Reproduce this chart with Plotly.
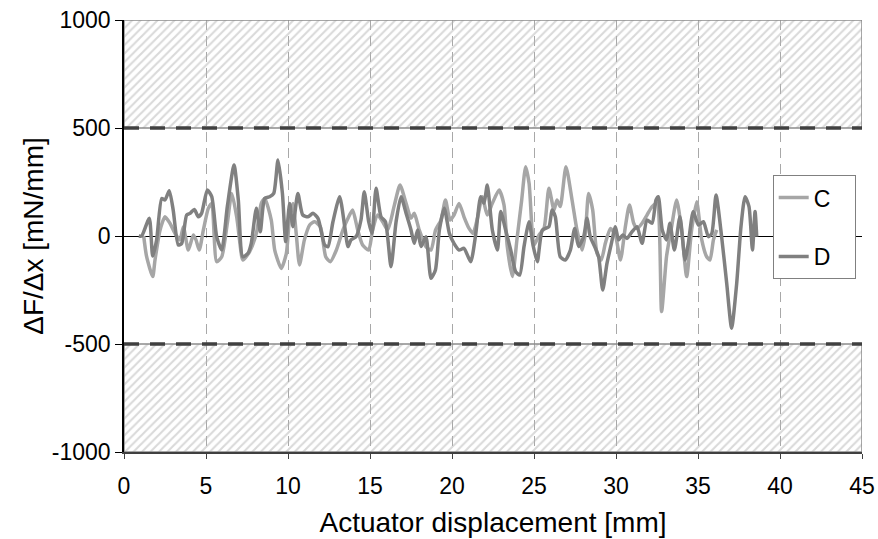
import plotly.graph_objects as go

# series C (light grey) - displacement [mm] / dF/dx [mN/mm]
c_x = [1.2, 1.38, 1.75, 1.89, 2.2, 2.5, 2.8, 3.11, 3.41, 3.62, 3.92, 4.23, 4.39, 4.59, 4.84,
       5.14, 5.35, 5.65, 5.96, 6.3, 6.57, 6.87, 7.18, 7.26, 7.66, 8.07, 8.37, 8.58, 8.98, 9.19,
       9.59, 9.9, 10.1, 10.3, 10.5, 10.7, 11.0, 11.32, 11.62, 11.97, 12.3, 12.58, 12.95, 13.35,
       13.66, 13.94, 14.25, 14.55, 14.92, 15.16, 15.47, 15.77, 16.08, 16.49, 16.83, 17.2, 17.5,
       17.7, 18.0, 18.41, 18.72, 19.0, 19.33, 19.6, 19.88, 20.12, 20.43, 20.73, 21.04, 21.28,
       21.55, 21.85, 22.15, 22.46, 22.87, 23.17, 23.37, 23.68, 23.98, 24.25, 24.49, 24.7, 25.0,
       25.31, 25.61, 25.91, 26.22, 26.4, 26.6, 26.95, 27.32, 27.62, 27.93, 28.13, 28.33, 28.58,
       28.84, 29.1, 29.35, 29.66, 29.96, 30.27, 30.57, 30.82, 31.08, 31.28, 31.59, 31.89, 32.2,
       32.5, 32.78, 33.08, 33.39, 33.7, 34.0, 34.31, 34.61, 34.92, 35.23, 35.53, 35.73, 35.94,
       36.14]
c_y = [0, -96, -188, -111, 28, 89, 59, 12, -18, 43, -65, 5, -18, -65, 28,
       128, 151, -119, -96, 59, 197, 89, -96, -111, -72, 12, 151, 174, 74, -65,
       -150, -80, 89, 151, 12, -134, -18, 51, 66, 43, -96, -119, -65, 28,
       82, 120, 28, -42, -65, 28, 97, 66, 28, 144, 236, 151, 82,
       105, 28, -49, -65, 28, 74, 167, 74, 97, 151, 89, 35, 12,
       82, 182, 97, 151, 213, 144, -49, -188, -3, 167, 321, 244, -42,
       5, 35, 221, 120, 167, 136, 321, 167, 28, -65, 12, 197, 120,
       -80, -111, -34, 35, 5, -111, 43, 144, 59, 35, 59, 97, 136,
       151, -350, -96, 43, 167, 28, -188, 28, 159, -18, -96, -111, -18,
       28]

# series D (dark grey)
d_x = [0.9, 1.08, 1.54, 1.75, 1.99, 2.3, 2.5, 2.76, 3.0, 3.31, 3.52, 3.82, 4.03, 4.29, 4.53,
       4.73, 5.08, 5.35, 5.65, 5.96, 6.3, 6.71, 6.97, 7.24, 7.56, 7.76, 8.07, 8.31, 8.58, 8.88,
       9.13, 9.39, 9.66, 9.86, 10.1, 10.3, 10.6, 10.9, 11.22, 11.52, 11.83, 12.24, 12.44, 12.74,
       13.15, 13.46, 13.66, 13.84, 14.15, 14.45, 14.65, 14.92, 15.12, 15.37, 15.67, 15.94, 16.28,
       16.59, 16.89, 17.2, 17.5, 17.7, 17.9, 18.11, 18.41, 18.72, 18.99, 19.23, 19.53, 19.84,
       20.12, 20.43, 20.73, 21.14, 21.44, 21.75, 21.95, 22.15, 22.46, 22.77, 22.97, 23.27, 23.58,
       23.88, 24.13, 24.39, 24.7, 24.94, 25.2, 25.51, 25.91, 26.1, 26.3, 26.6, 26.91, 27.22,
       27.48, 27.72, 28.03, 28.23, 28.43, 28.7, 28.94, 29.19, 29.45, 29.72, 29.96, 30.16, 30.41,
       30.67, 30.98, 31.28, 31.59, 31.89, 32.2, 32.44, 32.58, 32.82, 33.08, 33.29, 33.56, 33.9,
       34.21, 34.41, 34.71, 35.02, 35.33, 35.63, 35.84, 36.1, 36.44, 36.75, 37.05, 37.36, 37.62,
       37.87, 38.11, 38.32, 38.48, 38.58]
d_y = [0, 0, 82, -93, -18, 174, 167, 210, 120, -42, -34, 97, 105, 123, 89,
       105, 213, 182, -3, -65, 136, 329, 167, -96, -80, -34, 128, 20, 174, 182,
       197, 352, 197, -26, 151, 43, 197, 97, 89, 105, 82, -42, -49, 66,
       182, 43, -49, -18, -3, 74, 205, 66, 12, 221, 89, 66, -142,
       66, 182, 105, 28, -34, 28, -49, -3, -196, -157, 28, 128, 12,
       -34, -65, -57, -119, 5, 182, 151, 236, 28, -65, 113, 28, -65,
       -165, -181, -49, 66, -42, -119, 28, 43, 120, 89, -96, -111, -65,
       35, -49, -3, 82, -3, -49, -96, -250, -127, -34, 43, -18, 5,
       -11, 20, 43, -34, 74, 59, 167, 182, 28, -18, 59, -65, 89,
       -111, -34, 113, 51, 66, -3, 12, 190, -3, -219, -427, -219, 43,
       182, 136, -65, 113, -3]

x_ticks = [0, 5, 10, 15, 20, 25, 30, 35, 40, 45]
y_ticks = [1000, 500, 0, -500, -1000]
y_labels = ["1000", "500", "0", "-500", "-1000"]
limit = 500

fig = go.Figure()

# hatched out-of-spec zones
for lo, hi in [(limit, 1000), (-1000, -limit)]:
    fig.add_trace(go.Scatter(
        x=[0, 45, 45, 0, 0], y=[lo, lo, hi, hi, lo],
        mode="lines", fill="toself", fillcolor="rgba(0,0,0,0)",
        fillpattern=dict(shape="/", fgcolor="#b4b4b4", bgcolor="rgba(0,0,0,0)",
                         size=6, solidity=0.35),
        line=dict(color="#8c8c8c", width=1.5),
        showlegend=False, hoverinfo="skip"))

# limit lines
for lv in [limit, -limit]:
    fig.add_trace(go.Scatter(
        x=[0, 45], y=[lv, lv], mode="lines",
        line=dict(color="#404040", width=3.5, dash="15px,11px"),
        showlegend=False, hoverinfo="skip"))

fig.add_trace(go.Scatter(x=c_x, y=c_y, mode="lines", name="C\u00a0\u00a0\u00a0", legendgroup="c",
                         line=dict(color="#a6a6a6", width=3.5, shape="spline", smoothing=0.6)))
fig.add_trace(go.Scatter(x=d_x, y=d_y, mode="lines", name="D\u00a0\u00a0\u00a0", legendgroup="d",
                         line=dict(color="#808080", width=3.5, shape="spline", smoothing=0.6)))

fig.update_layout(
    width=878, height=539,
    margin=dict(l=124, r=16, t=20, b=87),
    plot_bgcolor="white", paper_bgcolor="white",
    font=dict(family="Liberation Sans, Arial, sans-serif", size=23, color="black"),
    legend=dict(x=0.879, y=0.641, xanchor="left", yanchor="top",
                bgcolor="white", bordercolor="#808080", borderwidth=1,
                tracegroupgap=26, font=dict(size=23), itemwidth=30),
    xaxis=dict(range=[0, 45], tickvals=x_ticks, showgrid=True, automargin=False,
               gridcolor="#a8a8a8", griddash="10px,6px", gridwidth=1,
               showline=True, linecolor="#404040", linewidth=1.5,
               ticks="outside", ticklen=5, tickcolor="#404040", ticklabelstandoff=8,
               ticklabeloverflow="allow", zeroline=False,
               title=dict(text="Actuator displacement [mm]", standoff=14)),
    yaxis=dict(range=[-1000, 1000], tickvals=y_ticks, ticktext=y_labels, automargin=False,
               showgrid=False, zeroline=True, zerolinecolor="black", zerolinewidth=1,
               showline=True, linecolor="black", linewidth=1.5,
               ticks="outside", ticklen=7, tickcolor="black", ticklabeloverflow="allow",
               title=dict(text="ΔF/Δx [mN/mm]", standoff=0)),
)

# drop the default page margin so the figure fills the window exactly
fig.write_html("out.html", config={"displayModeBar": False},
               post_script="document.body.style.margin='0';")
